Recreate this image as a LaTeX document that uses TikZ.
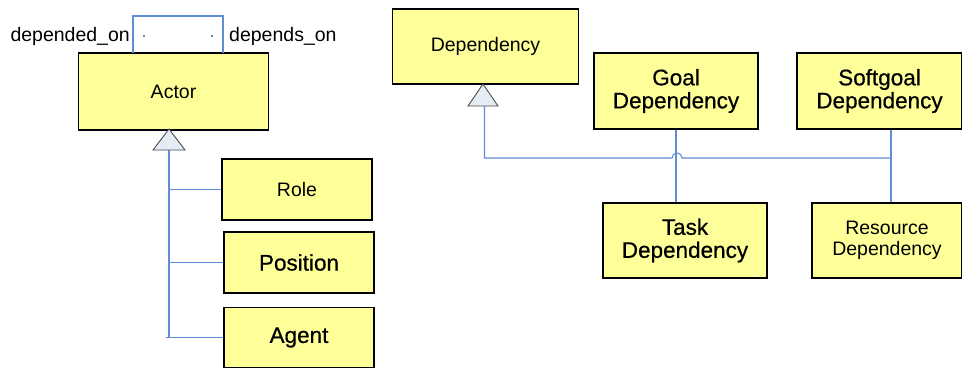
\documentclass[tikz,border=0pt]{standalone}
\usepackage{fontspec}
\setmainfont{Liberation Sans}
\newfontfamily\heavysans[FakeBold=0.6]{Liberation Sans}
\begin{document}
\begin{tikzpicture}[x=1pt,y=-1pt,
  classbox/.style={draw=black, line width=1.8pt, fill=boxyellow, inner sep=0pt,
    align=center, font=\fontsize{19.5}{21.5}\selectfont},
  bigtext/.style={font=\heavysans\fontsize{22.5}{23}\selectfont},
  link/.style={draw=linkblue, line width=1.1pt},
  genarrow/.style={draw=gray!60!black, line width=0.9pt, fill=trifill},
  rolelabel/.style={inner sep=0pt, font=\fontsize{19.5}{21}\selectfont}]
\definecolor{boxyellow}{RGB}{255,255,153}
\definecolor{linkblue}{RGB}{95,140,212}
\definecolor{trifill}{RGB}{230,236,246}
\useasboundingbox (0,0) rectangle (962,368);

% ---- actor hierarchy ----
\node[classbox, minimum width=190pt, minimum height=77pt] (actor) at (173.5,91.5) {Actor};
\node[classbox, minimum width=150pt, minimum height=61pt] (role) at (297,189.5) {Role};
\node[classbox, bigtext, minimum width=150pt, minimum height=61pt] (position) at (299,262.5) {Position};
\node[classbox, bigtext, minimum width=150pt, minimum height=60pt] (agent) at (299,337.5) {Agent};

% self association of Actor
\coordinate (loopL) at (133,53);
\coordinate (loopR) at (223,53);
\draw[link] (loopL) -- (133,16) -- (223,16) -- (loopR);
\fill (144,36) circle[radius=0.9pt];
\fill (212,36) circle[radius=0.9pt];
\node[rolelabel, anchor=base east] (depby) at (130,41.5) {depended\_on};
\node[rolelabel, anchor=base west] (depon) at (229,41.5) {depends\_on};

% generalisation to Actor
\coordinate (actgen) at (169,129);
\coordinate (actfoot) at (169,338);
\draw[link] (169,150) -- (actfoot);
\draw[genarrow] (actgen) -- (185,150) -- (153,150) -- cycle;
\draw[link] (role.west) -- (role.west -| actfoot);
\draw[link] (position.west) -- (position.west -| actfoot);
\draw[link] (agent.west) -- (166,337.5);

% ---- dependency hierarchy ----
\node[classbox, minimum width=186pt, minimum height=75pt] (dep) at (485.5,46.5) {Dependency};
\node[classbox, bigtext, minimum width=164pt, minimum height=76pt] (goal) at (676,91) {Goal\\Dependency};
\node[classbox, bigtext, minimum width=165pt, minimum height=76pt] (soft) at (879.5,91) {Softgoal\\Dependency};
\node[classbox, bigtext, minimum width=164pt, minimum height=75pt] (task) at (685,240.5) {Task\\Dependency};
\node[classbox, minimum width=150pt, minimum height=75pt] (res) at (887,240.5) {Resource\\Dependency};

% generalisation to Dependency
\coordinate (depgen) at (483,84);
\coordinate (bus) at (891,158);
\draw[link] (484.5,106) -- (484.5,158) -- (672,158)
  arc[start angle=180, end angle=0, radius=5pt] -- (bus);
\draw[genarrow] (depgen) -- (498,106) -- (468,106) -- cycle;
\draw[link] (goal.south) -- (goal.south |- task.north);
\draw[link] (bus |- soft.south) -- (bus |- res.north);
\end{tikzpicture}
\end{document}
